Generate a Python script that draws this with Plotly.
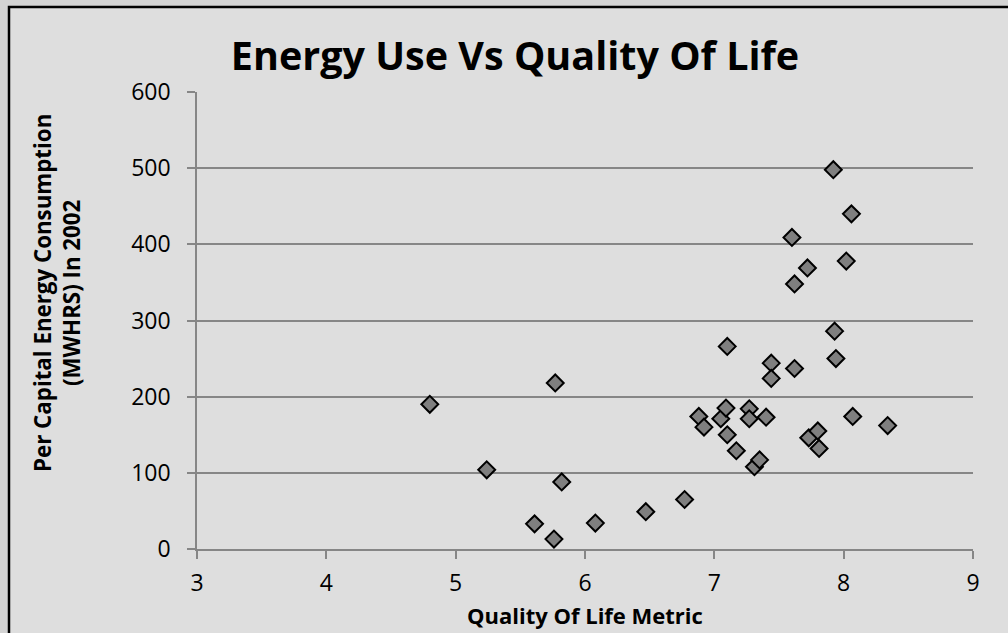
import plotly.graph_objects as go

# Data
quality_of_life = [4.80, 5.24, 5.61, 5.76, 5.77, 5.82, 6.08, 6.47, 6.77, 6.88,
                   6.92, 7.05, 7.09, 7.10, 7.10, 7.17, 7.27, 7.27, 7.31, 7.35,
                   7.40, 7.44, 7.44, 7.60, 7.62, 7.62, 7.72, 7.73, 7.80, 7.81,
                   7.92, 7.93, 7.94, 8.02, 8.06, 8.07, 8.34]
energy_mwhrs = [190, 104, 33, 13, 218, 88, 34, 49, 65, 174,
                160, 171, 185, 266, 150, 129, 184, 171, 108, 117,
                173, 244, 224, 409, 348, 237, 369, 146, 155, 132,
                498, 286, 250, 378, 440, 174, 162]
x_ticks = [3, 4, 5, 6, 7, 8, 9]
y_ticks = [0, 100, 200, 300, 400, 500, 600]

title_text = "Energy Use Vs Quality Of Life"
x_title = "Quality Of Life Metric"
y_title = "Per Capital Energy Consumption<br>(MWHRS) In 2002"

FONT = "Open Sans, Carlito, Calibri, sans-serif"
W, H = 1008, 633
L, R, T, B = 197, 35, 92, 84

fig = go.Figure()
fig.add_trace(go.Scatter(
    x=quality_of_life, y=energy_mwhrs, mode="markers",
    marker=dict(symbol="diamond", size=13, color="#7f7f7f",
                line=dict(color="#000000", width=2)),
    showlegend=False, hoverinfo="x+y"))

pw, ph = W - L - R, H - T - B

def px2paper_x(px):
    return (px - L) / pw

def px2paper_y(py):
    return (H - B - py) / ph

fig.update_layout(
    width=W, height=H,
    margin=dict(l=L, r=R, t=T, b=B, pad=0),
    paper_bgcolor="#d3d3d3",
    plot_bgcolor="rgba(0,0,0,0)",
    font=dict(family=FONT, color="#000000", size=23),
    title=dict(text="<b>%s</b>" % title_text, xref="container", x=515 / W,
               xanchor="center", yref="container", y=1 - 56 / H, yanchor="middle",
               font=dict(size=39.5, family=FONT, color="#000000")),
    xaxis=dict(range=[3, 9], tickvals=x_ticks, ticks="outside", ticklen=8,
               tickwidth=1.5, tickcolor="#868686", showline=True,
               linecolor="#868686", linewidth=1.5, showgrid=False,
               zeroline=False, tickfont=dict(size=23, family=FONT),
               ticklabelstandoff=5),
    yaxis=dict(range=[0, 600], tickvals=y_ticks, ticks="outside", ticklen=8,
               tickwidth=1.5, tickcolor="#868686", showline=True,
               linecolor="#868686", linewidth=1.5, showgrid=True,
               gridcolor="#868686", gridwidth=1.5, zeroline=False,
               tickfont=dict(size=23, family=FONT), ticklabelstandoff=12),
    shapes=[dict(type="rect", xref="paper", yref="paper", layer="below",
                 x0=px2paper_x(9), x1=px2paper_x(W + 20),
                 y0=px2paper_y(H + 20), y1=px2paper_y(7),
                 fillcolor="#dedede", line=dict(color="#000000", width=2.5))],
    annotations=[
        dict(text="<b>%s</b>" % x_title, xref="paper", yref="paper",
             x=px2paper_x(585), y=px2paper_y(615), xanchor="center",
             yanchor="middle", showarrow=False,
             font=dict(size=22, family=FONT)),
        dict(text="<b>%s</b>" % y_title, xref="paper", yref="paper",
             x=px2paper_x(57), y=px2paper_y(293), xanchor="center",
             yanchor="middle", showarrow=False, textangle=-90,
             font=dict(size=22.3, family=FONT)),
    ],
)

fig.write_html("out.html",
               config={"displayModeBar": False},
               post_script="document.body.style.margin='0';"
                           "document.body.style.background='#d3d3d3';")
